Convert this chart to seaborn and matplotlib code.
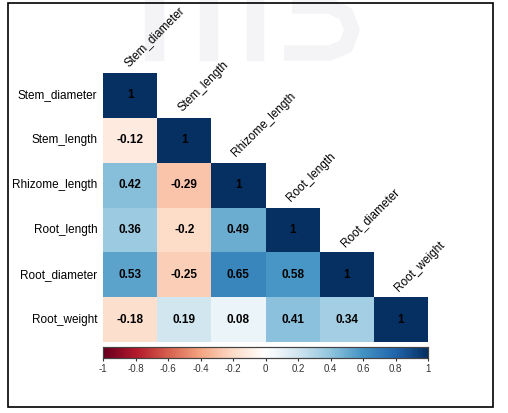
import numpy as np
import pandas as pd
import matplotlib
matplotlib.use('Agg')
import matplotlib.pyplot as plt
import seaborn as sns
from matplotlib.patches import Rectangle
from matplotlib.colors import LinearSegmentedColormap
from matplotlib.lines import Line2D

variables = ['Stem_diameter', 'Stem_length', 'Rhizome_length',
             'Root_length', 'Root_diameter', 'Root_weight']
row_stem_diameter = [1]
row_stem_length = [-0.12, 1]
row_rhizome_length = [0.42, -0.29, 1]
row_root_length = [0.36, -0.2, 0.49, 1]
row_root_diameter = [0.53, -0.25, 0.65, 0.58, 1]
row_root_weight = [-0.18, 0.19, 0.08, 0.41, 0.34, 1]
cbar_ticks = [-1, -0.8, -0.6, -0.4, -0.2, 0, 0.2, 0.4, 0.6, 0.8, 1]

# corrplot-style RdBu palette (white centre)
col2 = ["#67001F", "#B2182B", "#D6604D", "#F4A582", "#FDDBC7", "#FFFFFF",
        "#D1E5F0", "#92C5DE", "#4393C3", "#2166AC", "#053061"]
cmap = LinearSegmentedColormap.from_list('corr_rdbu', col2, N=200)

rows = [row_stem_diameter, row_stem_length, row_rhizome_length,
        row_root_length, row_root_diameter, row_root_weight]
n = len(variables)
mat = np.full((n, n), np.nan)
for i, r in enumerate(rows):
    mat[i, :len(r)] = r
    mat[:len(r), i] = r
corr = pd.DataFrame(mat, index=variables, columns=variables)
mask = np.triu(np.ones((n, n), dtype=bool), k=1)

plt.rcParams['font.family'] = ['Liberation Sans', 'DejaVu Sans']

W, H = 508, 413
fig = plt.figure(figsize=(W / 100, H / 100), dpi=100)

# faint watermark shapes at the top (behind everything)
wm = '#f4f4f6'
for x0, x1 in [(145, 163), (200, 217), (247, 263)]:
    fig.patches.append(Rectangle((x0 / W, 1 - 60 / H), (x1 - x0) / W, 60 / H,
                                 transform=fig.transFigure, color=wm, zorder=-5))
sx = np.array([292, 330, 346, 352, 346, 330, 284]) / W
sy = 1 - np.array([6, 6, 14, 30, 46, 53, 53]) / H
fig.lines.append(Line2D(sx, sy, transform=fig.transFigure, color=wm,
                        linewidth=11, solid_capstyle='butt', zorder=-5))

ax = fig.add_axes([103 / W, 1 - 342 / H, 325 / W, 269 / H])
cax = fig.add_axes([103 / W, 1 - 358 / H, 325 / W, 11 / H])
ax.patch.set_alpha(0)

sns.heatmap(corr, mask=mask, cmap=cmap, vmin=-1, vmax=1, ax=ax,
            annot=True, fmt='.2g', cbar_ax=cax,
            cbar_kws={'orientation': 'horizontal', 'ticks': cbar_ticks},
            annot_kws={'color': 'black', 'fontweight': 'bold', 'fontsize': 8.5},
            linewidths=0)

for t in ax.texts:
    if t.get_text() in ('1', '1.0'):
        t.set_text('1')

ax.set_xticks([])
ax.set_xlabel('')
ax.set_ylabel('')
ax.tick_params(axis='y', length=0, labelsize=8.5, pad=4)
plt.setp(ax.get_yticklabels(), rotation=0)

# diagonal column labels
for j, name in enumerate(variables):
    ax.text(j + 0.5, j - 0.08, name, rotation=45, rotation_mode='anchor',
            ha='left', va='bottom', fontsize=8.5, clip_on=False)

cax.tick_params(axis='x', length=2, labelsize=7, colors='#333333', pad=2)
cax.set_xticklabels([f'{v:g}' for v in cbar_ticks])
for s in cax.spines.values():
    s.set_visible(True)
    s.set_color('#444444')
    s.set_linewidth(0.8)

fig.patches.append(Rectangle((8 / W, 1 - 407 / H), 485 / W, 404 / H,
                             transform=fig.transFigure, fill=False,
                             edgecolor='black', linewidth=1.2))

fig.savefig('out.png', dpi=100)
